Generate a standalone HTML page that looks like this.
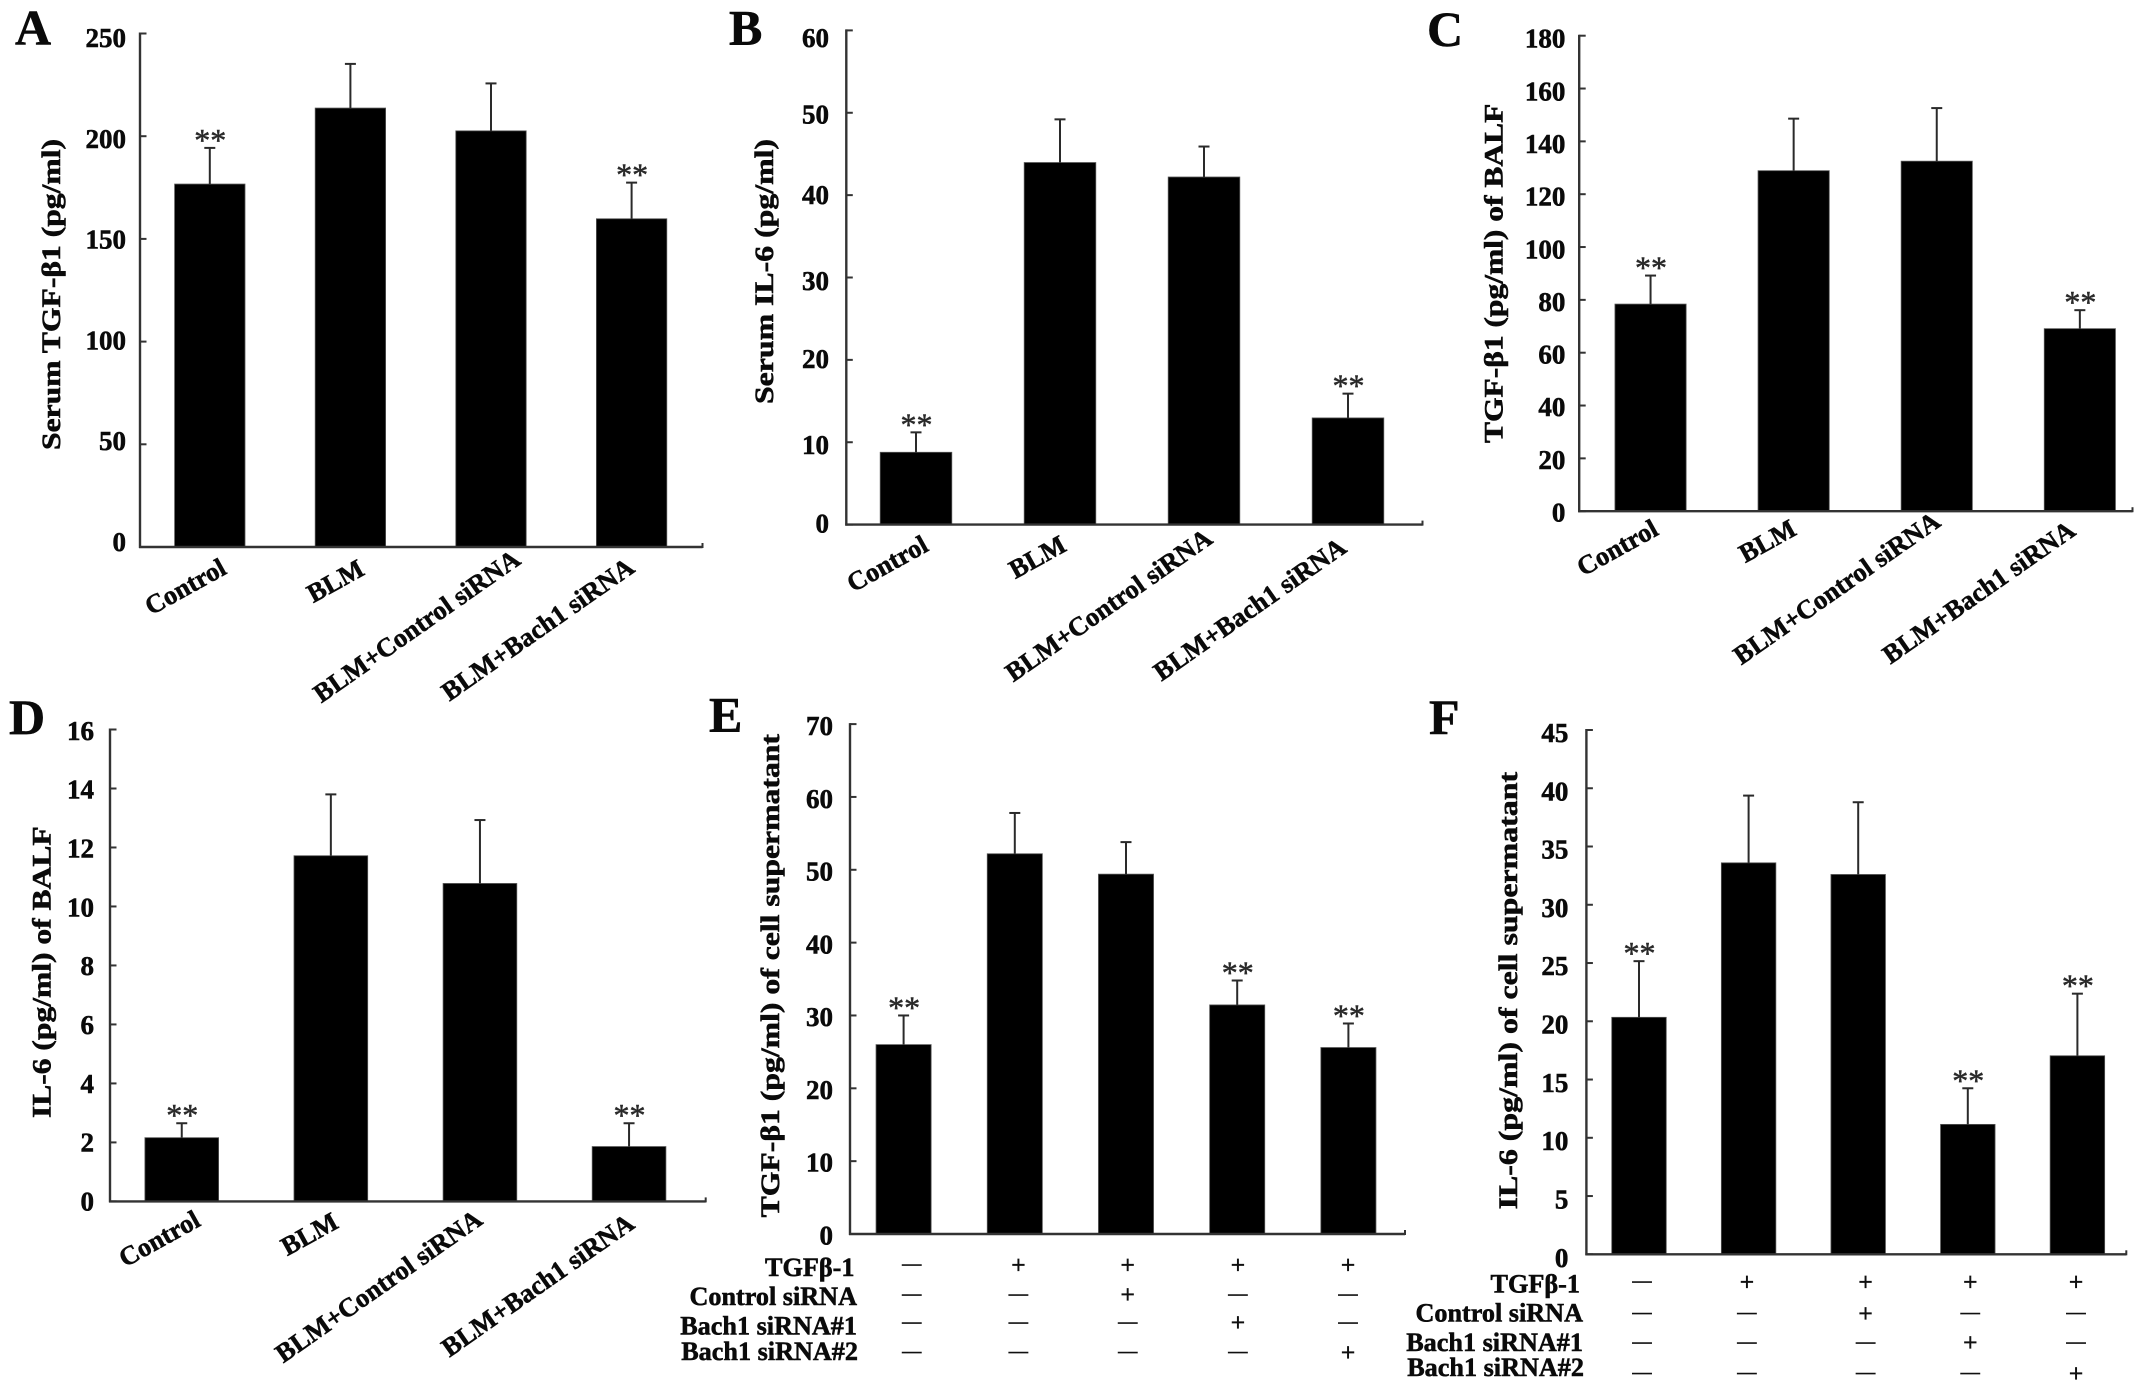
<!DOCTYPE html>
<html>
<head>
<meta charset="utf-8">
<title>Cytokine bar chart panels</title>
<style>
html,body{margin:0;padding:0;background:#fff;width:2150px;height:1396px;overflow:hidden}
svg{display:block}
text{font-family:"Liberation Serif",serif;font-weight:bold;fill:#0a0a0a;stroke:#0a0a0a;stroke-width:0.55px}
</style>
</head>
<body>
<svg id="figure" xmlns="http://www.w3.org/2000/svg" width="2150" height="1396" viewBox="0 0 2150 1396"></svg>
<script>
const fourCategories = ['Control', 'BLM', 'BLM+Control siRNA', 'BLM+Bach1 siRNA'];

const panelATicks = [0, 50, 100, 150, 200, 250];
const panelAValues = [176.7, 213.7, 202.6, 159.8];
const panelAErrorTops = [194.3, 235.2, 225.7, 177.4];
const panelAStars = [true, false, false, true];

const panelBTicks = [0, 10, 20, 30, 40, 50, 60];
const panelBValues = [8.78, 43.96, 42.2, 12.95];
const panelBErrorTops = [11.2, 49.2, 45.9, 15.9];
const panelBStars = [true, false, false, true];

const panelCTicks = [0, 20, 40, 60, 80, 100, 120, 140, 160, 180];
const panelCValues = [78.4, 128.9, 132.5, 69.1];
const panelCErrorTops = [89.2, 148.6, 152.6, 76.1];
const panelCStars = [true, false, false, true];

const panelDTicks = [0, 2, 4, 6, 8, 10, 12, 14, 16];
const panelDValues = [2.16, 11.72, 10.78, 1.86];
const panelDErrorTops = [2.65, 13.8, 12.93, 2.65];
const panelDStars = [true, false, false, true];

const panelETicks = [0, 10, 20, 30, 40, 50, 60, 70];
const panelEValues = [26.0, 52.2, 49.4, 31.45, 25.6];
const panelEErrorTops = [30.0, 57.8, 53.8, 34.8, 28.9];
const panelEStars = [true, false, false, true, true];

const panelFTicks = [0, 5, 10, 15, 20, 25, 30, 35, 40, 45];
const panelFValues = [20.34, 33.6, 32.6, 11.15, 17.04];
const panelFErrorTops = [25.16, 39.37, 38.8, 14.25, 22.37];
const panelFStars = [true, false, false, true, true];

const treatmentNames = ['TGFβ-1', 'Control siRNA', 'Bach1 siRNA#1', 'Bach1 siRNA#2'];
const treatmentTGF = ['-', '+', '+', '+', '+'];
const treatmentControl = ['-', '-', '+', '-', '-'];
const treatmentBach1 = ['-', '-', '-', '+', '-'];
const treatmentBach2 = ['-', '-', '-', '-', '+'];

const NS = 'http://www.w3.org/2000/svg';
const root = document.getElementById('figure');

function make(tag, attrs, parent) {
  const n = document.createElementNS(NS, tag);
  for (const k in attrs) n.setAttribute(k, attrs[k]);
  parent.appendChild(n);
  return n;
}

function drawPanel(p) {
  const g = make('g', {}, root);
  
  

  const yScale = v => p.y0 - v / p.max * (p.y0 - p.yTop);
  const xCenter = i => p.bandStart + (i + 0.5) * p.band;
  const labelOffset = v => p.labelShift ? p.labelShift(v) : p.labelLow + (p.labelHigh - p.labelLow) * v / p.max;

  const letter = make('text', {x: p.letterX, y: p.letterY, 'font-size': 50}, g);
  letter.textContent = p.id;
  
  

  const yTitle = make('text', {
    transform: 'translate(' + p.titleX + ',' + p.titleBottom + ') rotate(-90)',
    'font-size': 26.5,
    textLength: p.titleBottom - p.titleTop,
    lengthAdjust: 'spacingAndGlyphs'
  }, g);
  yTitle.textContent = p.title;
  
  

  p.values.forEach((v, i) => {
    const cx = xCenter(i);
    const bar = make('rect', {
      x: cx - p.barWidth / 2, y: yScale(v), width: p.barWidth, height: p.y0 - yScale(v),
      fill: '#000', stroke: '#555', 'stroke-width': 0.8
    }, g);
    
    

    const errY = yScale(p.errors[i]);
    const stem = make('line', {x1: cx, x2: cx, y1: yScale(v), y2: errY, stroke: '#2a2a2a', 'stroke-width': 2}, g);
    
    

    const cap = make('line', {x1: cx - 5.5, x2: cx + 5.5, y1: errY, y2: errY, stroke: '#2a2a2a', 'stroke-width': 2}, g);
    
    

    if (p.stars[i]) {
      const star = make('text', {x: cx + 0.5, y: errY + 3, 'font-size': 32, 'text-anchor': 'middle', style: 'font-weight:normal;fill:#2a2a2a;stroke:#2a2a2a;stroke-width:0.5px'}, g);
      star.textContent = '**';
      
      
    }
  });

  const yAxis = make('line', {x1: p.axisX, x2: p.axisX, y1: p.yTop - 1, y2: p.y0 + 1, stroke: '#333', 'stroke-width': 2.4}, g);
  
  

  const xAxis = make('line', {x1: p.axisX - 1, x2: p.xEnd, y1: p.y0, y2: p.y0, stroke: '#333', 'stroke-width': 2.4}, g);
  
  

  const endTick = make('line', {x1: p.xEnd, x2: p.xEnd, y1: p.y0 + 1, y2: p.y0 - 4, stroke: '#333', 'stroke-width': 2}, g);
  
  

  p.ticks.forEach(t => {
    const ty = yScale(t);
    const tick = make('line', {x1: p.axisX, x2: p.axisX + 6.5, y1: ty, y2: ty, stroke: '#333', 'stroke-width': 2}, g);
    
    

    const label = make('text', {x: p.tickRight, y: ty + labelOffset(t) + 9, 'font-size': 27, 'text-anchor': 'end'}, g);
    label.textContent = String(t);
    
    
  });

  if (p.catAnchors) {
    fourCategories.forEach((c, i) => {
      const a = p.catAnchors(i);
      const angle = i < 2 ? -29 : -35;
      const cat = make('text', {
        transform: 'translate(' + a[0] + ',' + a[1] + ') rotate(' + angle + ')',
        'font-size': 26.5, 'text-anchor': 'end'
      }, g);
      cat.textContent = c;
      
      
    });
  }

  if (p.matrix) {
    const m = p.matrix;
    treatmentNames.forEach((name, r) => {
      const rowLabel = make('text', {x: m.right[r], y: m.baseline[r], 'font-size': 26.2, 'text-anchor': 'end'}, g);
      rowLabel.textContent = name;
      
      
    });
    [treatmentTGF, treatmentControl, treatmentBach1, treatmentBach2].forEach((row, r) => {
      row.forEach((sign, c) => {
        const cx = m.cols[c];
        const cy = m.rows[r];
        const isPlus = sign === '+';
        const mark = make('text', {
          x: cx,
          y: isPlus ? cy + 8.5 : cy + 4.6,
          'font-size': isPlus ? 25 : 19,
          'text-anchor': 'middle',
          style: 'font-weight:normal;fill:#111;stroke:#111;stroke-width:0.7px'
        }, g);
        mark.textContent = isPlus ? '+' : '—';
        
        
      });
    });
  }
}

const anchorsA = i => [[228, 573], [366, 574], [522, 563], [636, 571]][i];
const anchorsB = i => [[930, 550], [1068, 550], [1214, 542], [1348, 551]][i];
const anchorsC = i => [[1660, 534], [1798, 534], [1942, 525], [2077, 534]][i];
const anchorsD = i => [[202, 1225], [340, 1227], [484, 1223], [636, 1227]][i];
const shiftB = v => ({60: 7.6, 50: 1.8, 40: 0, 30: 3.6, 20: -0.9, 10: 3, 0: -1})[v] || 0;

drawPanel({id: 'A', title: 'Serum TGF-β1 (pg/ml)', max: 250, ticks: panelATicks, values: panelAValues, errors: panelAErrorTops, stars: panelAStars,
  axisX: 140, xEnd: 702.5, y0: 547, yTop: 33.5, bandStart: 139.5, band: 140.6, barWidth: 70.4, tickRight: 126, labelLow: -5, labelHigh: 4.5,
  letterX: 15, letterY: 44.6, titleX: 60, titleTop: 139, titleBottom: 450, catAnchors: anchorsA});

drawPanel({id: 'B', title: 'Serum IL-6 (pg/ml)', max: 60, ticks: panelBTicks, values: panelBValues, errors: panelBErrorTops, stars: panelBStars,
  axisX: 846.3, xEnd: 1422.5, y0: 524.6, yTop: 30.4, bandStart: 844, band: 144, barWidth: 71.6, tickRight: 829, labelShift: shiftB,
  letterX: 729, letterY: 44.6, titleX: 773, titleTop: 139, titleBottom: 404, catAnchors: anchorsB});

drawPanel({id: 'C', title: 'TGF-β1 (pg/ml) of BALF', max: 180, ticks: panelCTicks, values: panelCValues, errors: panelCErrorTops, stars: panelCStars,
  axisX: 1579.2, xEnd: 2132.5, y0: 511.2, yTop: 35.7, bandStart: 1579, band: 143.1, barWidth: 71.2, tickRight: 1565.4, labelLow: 1.3, labelHigh: 3,
  letterX: 1427, letterY: 46, titleX: 1502.5, titleTop: 103.6, titleBottom: 443, catAnchors: anchorsC});

drawPanel({id: 'D', title: 'IL-6 (pg/ml) of BALF', max: 16, ticks: panelDTicks, values: panelDValues, errors: panelDErrorTops, stars: panelDStars,
  axisX: 110, xEnd: 705.7, y0: 1201.4, yTop: 729.5, bandStart: 107.2, band: 149.1, barWidth: 73.7, tickRight: 94, labelLow: 0, labelHigh: 1.3,
  letterX: 9, letterY: 734, titleX: 50.4, titleTop: 826.4, titleBottom: 1118, catAnchors: anchorsD});

drawPanel({id: 'E', title: 'TGF-β1 (pg/ml) of cell supermatant', max: 70, ticks: panelETicks, values: panelEValues, errors: panelEErrorTops, stars: panelEStars,
  axisX: 850, xEnd: 1405, y0: 1234, yTop: 724.1, bandStart: 848, band: 111.2, barWidth: 55.1, tickRight: 833, labelLow: 1.5, labelHigh: 2,
  letterX: 709, letterY: 731.7, titleX: 779, titleTop: 734, titleBottom: 1217.4,
  matrix: {right: [854.5, 857, 857, 858], baseline: [1276, 1305, 1334.4, 1360],
    cols: [911.8, 1018.4, 1127.7, 1237.9, 1348], rows: [1265, 1294.7, 1322.7, 1352.3]}});

drawPanel({id: 'F', title: 'IL-6 (pg/ml) of cell supermatant', max: 45, ticks: panelFTicks, values: panelFValues, errors: panelFErrorTops, stars: panelFStars,
  axisX: 1586.4, xEnd: 2126.3, y0: 1254.3, yTop: 730, bandStart: 1584.2, band: 109.6, barWidth: 54.5, tickRight: 1568.4, labelLow: 3.5, labelHigh: 3,
  letterX: 1429, letterY: 734, titleX: 1517, titleTop: 771.9, titleBottom: 1209.4,
  matrix: {right: [1580, 1583, 1583, 1584], baseline: [1292.7, 1321.7, 1351, 1376],
    cols: [1642, 1746.9, 1865.6, 1970.3, 2076], rows: [1282, 1313.3, 1342.7, 1373.3]}});
</script>
</body>
</html>
